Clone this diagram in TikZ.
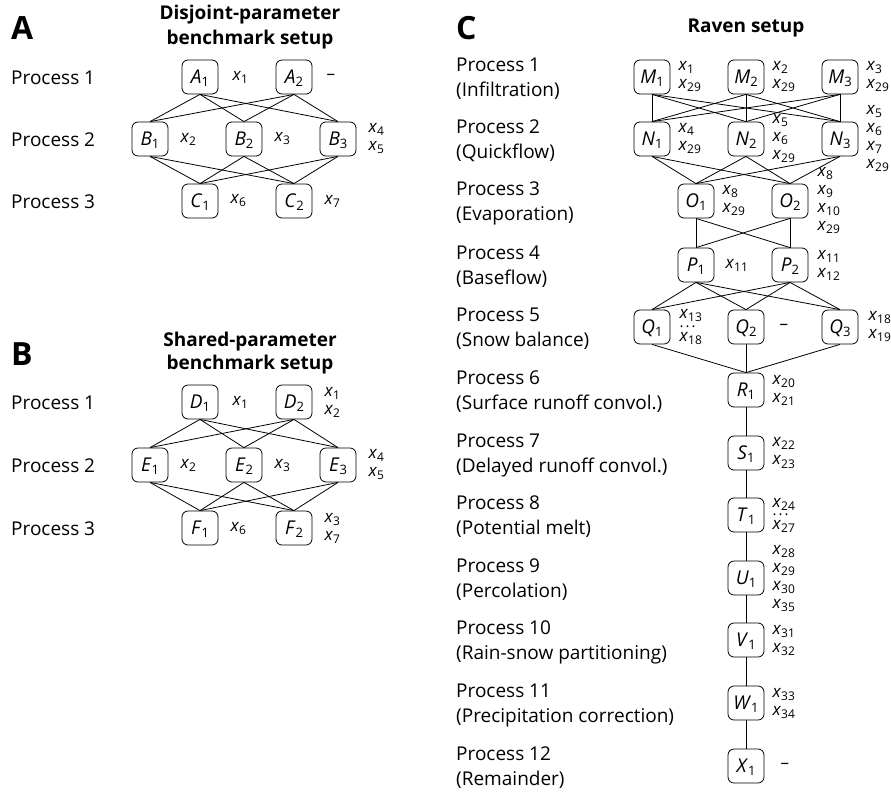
\documentclass[tikz,border=0pt]{standalone}
\usepackage{fontspec}
\setmainfont{Open Sans}
\newcommand\nv[2]{\textit{#1}\raisebox{-3pt}{\fontsize{13}{13}\selectfont #2}}
\newcommand\xv[1]{\textit{x}\raisebox{-3pt}{\fontsize{12}{12}\selectfont #1}}
\begin{document}
\begin{tikzpicture}[x=1pt,y=-1pt,
  box/.style={draw, rounded corners=6pt, minimum width=36pt, minimum height=34pt, inner sep=0pt,
              line width=0.8pt, text height=13pt, text depth=0pt, font=\fontsize{19}{22}\selectfont},
  lab/.style={anchor=west, inner sep=0pt, align=left, font=\fontsize{17}{18}\selectfont},
  dotsl/.style={anchor=west, inner sep=0pt, font=\fontsize{15}{15}\selectfont},
  proc/.style={anchor=base west, inner sep=0pt, font=\fontsize{19}{25}\selectfont},
  ttl/.style={anchor=base, inner sep=0pt, font=\bfseries\fontsize{19}{24}\selectfont},
  big/.style={anchor=base west, inner sep=0pt, font=\bfseries\fontsize{32}{32}\selectfont},
  edge/.style={line width=0.8pt}]
\useasboundingbox (0,0) rectangle (891,793);

% ---------------- Panel A ----------------
\node[big] (LA) at (11,39) {A};
\node[ttl] (tA1) at (250,19) {Disjoint-parameter};
\node[ttl] (tA2) at (250,44) {benchmark setup};
\node[proc] (pA1) at (11,84) {Process 1};
\node[proc] (pA2) at (11,146) {Process 2};
\node[proc] (pA3) at (11,208) {Process 3};
\node[box] (A1) at (200,77) {\nv{A}{1}};
\node[box] (A2) at (294,77) {\nv{A}{2}};
\node[box] (B1) at (150,139) {\nv{B}{1}};
\node[box] (B2) at (244,139) {\nv{B}{2}};
\node[box] (B3) at (338,139) {\nv{B}{3}};
\node[box] (C1) at (200,201) {\nv{C}{1}};
\node[box] (C2) at (294,201) {\nv{C}{2}};
\node[lab, xshift=14pt] (lA1) at (A1.east) {\xv{1}};
\node[lab, xshift=14pt] (lA2) at (A2.east) {–};
\node[lab, xshift=12pt] (lB1) at (B1.east) {\xv{2}};
\node[lab, xshift=12pt] (lB2) at (B2.east) {\xv{3}};
\node[lab, xshift=12pt] (lB3) at (B3.east) {\xv{4}\\\xv{5}};
\node[lab, xshift=12pt] (lC1) at (C1.east) {\xv{6}};
\node[lab, xshift=12pt] (lC2) at (C2.east) {\xv{7}};
\foreach \u in {A1,A2} \foreach \v in {B1,B2,B3} \draw[edge] (\u.south) -- (\v.north);
\foreach \u in {B1,B2,B3} \foreach \v in {C1,C2} \draw[edge] (\u.south) -- (\v.north);

% ---------------- Panel B ----------------
\node[big] (LB) at (11,365) {B};
\node[ttl] (tB1) at (250,346) {Shared-parameter};
\node[ttl] (tB2) at (250,369) {benchmark setup};
\node[proc] (pB1) at (11,409) {Process 1};
\node[proc] (pB2) at (11,472) {Process 2};
\node[proc] (pB3) at (11,535) {Process 3};
\node[box] (D1) at (200,402) {\nv{D}{1}};
\node[box] (D2) at (294,402) {\nv{D}{2}};
\node[box] (E1) at (150,465) {\nv{E}{1}};
\node[box] (E2) at (244,465) {\nv{E}{2}};
\node[box] (E3) at (338,465) {\nv{E}{3}};
\node[box] (F1) at (200,528) {\nv{F}{1}};
\node[box] (F2) at (294,528) {\nv{F}{2}};
\node[lab, xshift=14pt] (lD1) at (D1.east) {\xv{1}};
\node[lab, xshift=12pt] (lD2) at (D2.east) {\xv{1}\\\xv{2}};
\node[lab, xshift=12pt] (lE1) at (E1.east) {\xv{2}};
\node[lab, xshift=12pt] (lE2) at (E2.east) {\xv{3}};
\node[lab, xshift=12pt] (lE3) at (E3.east) {\xv{4}\\\xv{5}};
\node[lab, xshift=12pt] (lF1) at (F1.east) {\xv{6}};
\node[lab, xshift=12pt] (lF2) at (F2.east) {\xv{3}\\\xv{7}};
\foreach \u in {D1,D2} \foreach \v in {E1,E2,E3} \draw[edge] (\u.south) -- (\v.north);
\foreach \u in {E1,E2,E3} \foreach \v in {F1,F2} \draw[edge] (\u.south) -- (\v.north);

% ---------------- Panel C ----------------
\node[big] (LC) at (456,39) {C};
\node[ttl] (tC) at (746,32) {Raven setup};
\foreach \i/\yy/\lbl in {1/77/Infiltration, 2/139/Quickflow, 3/201/Evaporation, 4/265/Baseflow,
  5/327/Snow balance, 6/390/Surface runoff convol., 7/453/Delayed runoff convol.,
  8/515/Potential melt, 9/578/Percolation, 10/640/Rain-snow partitioning,
  11/703/Precipitation correction, 12/766/Remainder}{
  \node[proc] (pc\i) at (456,\yy-6) {Process \i};
  \node[proc] (pd\i) at (456,\yy+19) {(\lbl)};
}
\node[box] (M1) at (652,77) {\nv{M}{1}};
\node[box] (M2) at (746,77) {\nv{M}{2}};
\node[box] (M3) at (840,77) {\nv{M}{3}};
\node[box] (N1) at (652,139) {\nv{N}{1}};
\node[box] (N2) at (746,139) {\nv{N}{2}};
\node[box] (N3) at (840,139) {\nv{N}{3}};
\node[box] (O1) at (696,201) {\nv{O}{1}};
\node[box] (O2) at (790,201) {\nv{O}{2}};
\node[box] (P1) at (696,265) {\nv{P}{1}};
\node[box] (P2) at (790,265) {\nv{P}{2}};
\node[box] (Q1) at (652,327) {\nv{Q}{1}};
\node[box] (Q2) at (746,327) {\nv{Q}{2}};
\node[box] (Q3) at (840,327) {\nv{Q}{3}};
\node[box] (R1) at (746,390) {\nv{R}{1}};
\node[box] (S1) at (746,453) {\nv{S}{1}};
\node[box] (T1) at (746,515) {\nv{T}{1}};
\node[box] (U1) at (746,578) {\nv{U}{1}};
\node[box] (V1) at (746,640) {\nv{V}{1}};
\node[box] (W1) at (746,703) {\nv{W}{1}};
\node[box] (X1) at (746,766) {\nv{X}{1}};

\node[lab, xshift=8pt] (lM1) at (M1.east) {\xv{1}\\\xv{29}};
\node[lab, xshift=8pt] (lM2) at (M2.east) {\xv{2}\\\xv{29}};
\node[lab, xshift=8pt] (lM3) at (M3.east) {\xv{3}\\\xv{29}};
\node[lab, xshift=8pt] (lN1) at (N1.east) {\xv{4}\\\xv{29}};
\node[lab, xshift=8pt] (lN2) at (N2.east) {\xv{5}\\\xv{6}\\\xv{29}};
\node[lab, xshift=8pt] (lN3) at (N3.east) {\xv{5}\\\xv{6}\\\xv{7}\\\xv{29}};
\node[lab, xshift=8pt] (lO1) at (O1.east) {\xv{8}\\\xv{29}};
\node[lab, xshift=9pt] (lO2) at (O2.east) {\xv{8}\\\xv{9}\\\xv{10}\\\xv{29}};
\node[lab, xshift=11pt] (lP1) at (P1.east) {\xv{11}};
\node[lab, xshift=9pt] (lP2) at (P2.east) {\xv{11}\\\xv{12}};
\node[lab, xshift=9pt, yshift=11pt] (lQ1a) at (Q1.east) {\xv{13}};
\node[dotsl, xshift=9pt, yshift=0.5pt] (dQ1) at (Q1.east) {.\hspace{2pt}.\hspace{2pt}.};
\node[lab, xshift=9pt, yshift=-11.5pt] (lQ1b) at (Q1.east) {\xv{18}};
\node[lab, xshift=15pt] (lQ2) at (Q2.east) {–};
\node[lab, xshift=10pt] (lQ3) at (Q3.east) {\xv{18}\\\xv{19}};
\node[lab, xshift=8pt] (lR1) at (R1.east) {\xv{20}\\\xv{21}};
\node[lab, xshift=8pt] (lS1) at (S1.east) {\xv{22}\\\xv{23}};
\node[lab, xshift=8pt, yshift=11pt] (lT1a) at (T1.east) {\xv{24}};
\node[dotsl, xshift=8pt, yshift=0.5pt] (dT1) at (T1.east) {.\hspace{2pt}.\hspace{2pt}.};
\node[lab, xshift=8pt, yshift=-11.5pt] (lT1b) at (T1.east) {\xv{27}};
\node[lab, xshift=8pt] (lU1) at (U1.east) {\xv{28}\\\xv{29}\\\xv{30}\\\xv{35}};
\node[lab, xshift=8pt] (lV1) at (V1.east) {\xv{31}\\\xv{32}};
\node[lab, xshift=8pt] (lW1) at (W1.east) {\xv{33}\\\xv{34}};
\node[lab, xshift=16pt] (lX1) at (X1.east) {–};

\foreach \u in {M1,M2,M3} \foreach \v in {N1,N2,N3} \draw[edge] (\u.south) -- (\v.north);
\foreach \u in {N1,N2,N3} \foreach \v in {O1,O2} \draw[edge] (\u.south) -- (\v.north);
\foreach \u in {O1,O2} \foreach \v in {P1,P2} \draw[edge] (\u.south) -- (\v.north);
\foreach \u in {P1,P2} \foreach \v in {Q1,Q2,Q3} \draw[edge] (\u.south) -- (\v.north);
\foreach \u in {Q1,Q2,Q3} \draw[edge] (\u.south) -- (R1.north);
\draw[edge] (R1) -- (S1) (S1) -- (T1) (T1) -- (U1) (U1) -- (V1) (V1) -- (W1) (W1) -- (X1);
\end{tikzpicture}
\end{document}
